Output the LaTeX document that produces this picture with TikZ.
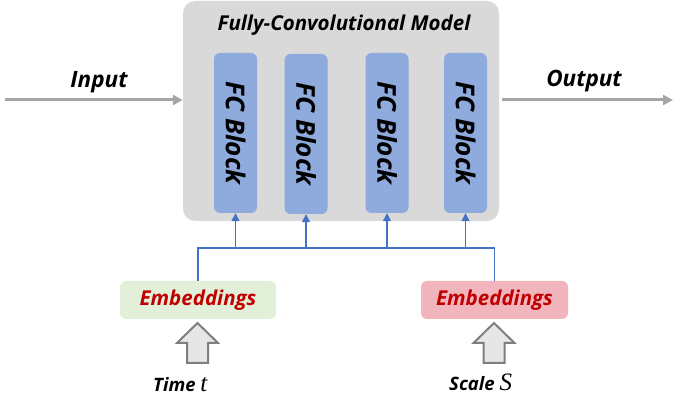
\documentclass[tikz,border=0pt]{standalone}
\usepackage{fontspec}
\setmainfont{Open Sans}
\newfontfamily\serifit{Liberation Serif}
\usetikzlibrary{arrows.meta,positioning,calc}
\definecolor{boxgray}{HTML}{D9D9D9}
\definecolor{fcblue}{HTML}{8FAADC}
\definecolor{lineblue}{HTML}{4472C4}
\definecolor{embgreen}{HTML}{E2F0D9}
\definecolor{embpink}{HTML}{F2B5BE}
\definecolor{embred}{HTML}{C00000}
\definecolor{arrgray}{HTML}{A6A6A6}
\definecolor{hollowfill}{HTML}{E7E6E6}
\definecolor{hollowline}{HTML}{7F7F7F}
\tikzset{
  modelbox/.style={draw=none, fill=boxgray, rounded corners=12pt, minimum width=316pt, minimum height=220pt, inner sep=0pt},
  fcbox/.style={draw=none, fill=fcblue, rounded corners=6pt, minimum width=43pt, minimum height=160pt, inner sep=0pt},
  fctext/.style={font=\fontsize{26}{28}\selectfont\bfseries\itshape, rotate=-90, inner sep=0pt},
  embbox/.style={draw=none, rounded corners=6pt, minimum width=156pt, minimum height=38pt, inner sep=0pt, text=embred, font=\fontsize{20.5}{22}\selectfont\bfseries\itshape},
  bigarrow/.style={draw=arrgray, line width=3pt, -{Triangle[length=10pt,width=10pt]}},
  feed/.style={draw=lineblue, line width=1.1pt},
  feedarrow/.style={feed, -{Triangle[length=8pt,width=8pt]}},
  hollow/.style={draw=hollowline, fill=hollowfill, line width=2pt, line join=miter},
  lbl/.style={font=\fontsize{22.5}{25}\selectfont\bfseries\itshape, inner sep=0pt},
  small/.style={font=\fontsize{18.5}{20}\selectfont\bfseries\itshape, inner sep=0pt, anchor=base west}
}
\begin{document}
\begin{tikzpicture}[x=1pt,y=-1pt]
\useasboundingbox (0,0) rectangle (673,403);
% model box
\node[modelbox] (model) at (341,111) {};
\node[font=\fontsize{20.5}{22}\selectfont\bfseries\itshape, inner sep=0pt] (title) at (344,25) {Fully-Convolutional Model};
% FC blocks
\node[fcbox] (fc1) at (235.5,133) {};
\node[fcbox] (fc2) at (306,134) {};
\node[fcbox] (fc3) at (387,133) {};
\node[fcbox] (fc4) at (465.5,133) {};
\foreach \i in {1,2,3,4} {\node[fctext] (t\i) at (fc\i.center) {FC Block};}
% input / output
\coordinate (inStart) at (5,100);
\draw[bigarrow] (inStart) -- (inStart -| model.west);
\node[lbl] (inlbl) at (99,82) {Input};
\coordinate (outEnd) at (673,100);
\draw[bigarrow] (outEnd -| model.east) ++(3,0) -- (outEnd);
\node[lbl] (outlbl) at (584,81) {Output};
% embeddings
\node[embbox, fill=embgreen] (embT) at (198,300) {Embeddings};
\node[embbox, fill=embpink, minimum width=147pt] (embS) at (494.5,300) {Embeddings};
% feed lines
\coordinate (bus) at (0,248);
\draw[feed, line width=1.5pt] (embT.north) -- (embT.north |- bus) -- (fc2.south |- bus);
\draw[feed] (embS.north) -- (embS.north |- bus) -- (fc1.south |- bus);
\draw[feedarrow, line width=1.6pt] (fc1.south |- bus) -- (fc1.south);
\draw[feedarrow, line width=1.6pt] (fc2.south |- bus) -- (fc2.south);
\draw[feedarrow] (fc3.south |- bus) -- (fc3.south);
\draw[feedarrow] (fc4.south |- bus) -- (fc4.south);
% hollow arrows
\foreach \n/\cx in {hT/197.5, hS/494} {
  \draw[hollow] (\cx,323) -- (\cx+20.5,343) -- (\cx+10.5,343) -- (\cx+10.5,363) -- (\cx-10.5,363) -- (\cx-10.5,343) -- (\cx-20.5,343) -- cycle;
}
% labels
\node[small] (time) at (153,392) {Time~{\serifit\fontsize{25}{26}\selectfont\mdseries\itshape t}};
\node[small] (scale) at (449,391) {Scale~{\serifit\fontsize{25}{26}\selectfont\mdseries\itshape S}};
\end{tikzpicture}
\end{document}
